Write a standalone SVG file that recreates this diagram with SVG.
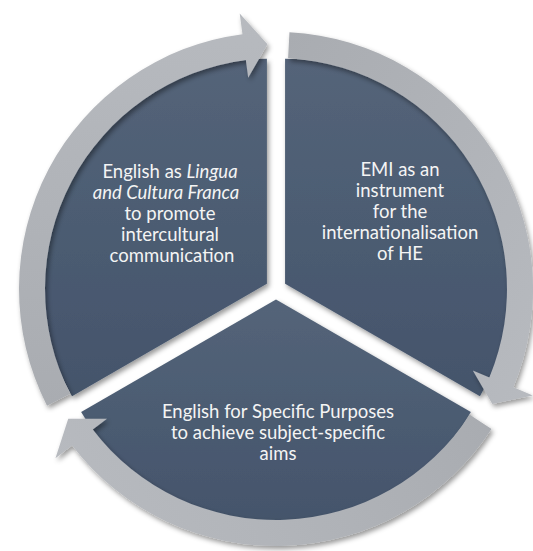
<svg xmlns="http://www.w3.org/2000/svg" xmlns:xlink="http://www.w3.org/1999/xlink" width="533" height="551" viewBox="0 0 533 551">
<defs>
<linearGradient id="sliceGrad" x1="0" y1="0" x2="0" y2="1">
<stop offset="0" stop-color="#546479"/>
<stop offset="1" stop-color="#44546b"/>
</linearGradient>
<linearGradient id="ringGrad" x1="0" y1="0" x2="0" y2="1">
<stop offset="0" stop-color="#b7babf"/>
<stop offset="1" stop-color="#a9acb1"/>
</linearGradient>
<filter id="shadow" x="-10%" y="-10%" width="120%" height="120%">
<feDropShadow dx="2" dy="3" stdDeviation="2.5" flood-color="#000" flood-opacity="0.4"/>
</filter>
<path id="arrow" d="M 47.01,405.68 A 257 257 0 0 1 242.45,34.2 L 239.71,13.38 L 267.45,44.15 L 248.2,77.82 L 245.85,59.98 A 231 231 0 0 0 70.18,393.87 Z"/>
</defs>
<style>
.slice { fill: url(#sliceGrad); }
.ring { fill: url(#ringGrad); }
.label { font-family: Lato, "Open Sans", "Liberation Sans", sans-serif; font-size: 18.5px; fill: #f4f4f4; text-anchor: middle; }
.it { font-style: italic; }
</style>
<rect width="533" height="551" fill="#ffffff"/>

<g id="node-lingua-franca" filter="url(#shadow)">
<path class="slice" d="M 266.91,283.75 L 72.05,396.25 A 225 225 0 0 1 266.91,58.75 Z"/>
</g>
<g id="node-emi" filter="url(#shadow)">
<path class="slice" d="M 285.09,283.75 L 285.09,58.75 A 225 225 0 0 1 479.95,396.25 Z"/>
</g>
<g id="node-esp" filter="url(#shadow)">
<path class="slice" d="M 276,299.5 L 470.86,412 A 225 225 0 0 1 81.14,412 Z"/>
</g>

<g id="connectors" filter="url(#shadow)">
<use class="ring" xlink:href="#arrow" href="#arrow"/>
<use class="ring" xlink:href="#arrow" href="#arrow" transform="rotate(120 276 289)"/>
<use class="ring" xlink:href="#arrow" href="#arrow" transform="rotate(240 276 289)"/>
</g>

<g id="labels">
<text class="label" x="170" y="178">English as <tspan class="it">Lingua</tspan></text>
<text class="label it" x="166" y="199">and Cultura Franca</text>
<text class="label" x="170" y="220">to promote</text>
<text class="label" x="170" y="241">intercultural</text>
<text class="label" x="172" y="262">communication</text>

<text class="label" x="400" y="176">EMI as an</text>
<text class="label" x="400" y="197">instrument</text>
<text class="label" x="400" y="218">for the</text>
<text class="label" x="400" y="239">internationalisation</text>
<text class="label" x="400" y="260">of HE</text>

<text class="label" x="278" y="418">English for Specific Purposes</text>
<text class="label" x="278" y="439">to achieve subject-specific</text>
<text class="label" x="278" y="460">aims</text>
</g>
</svg>
